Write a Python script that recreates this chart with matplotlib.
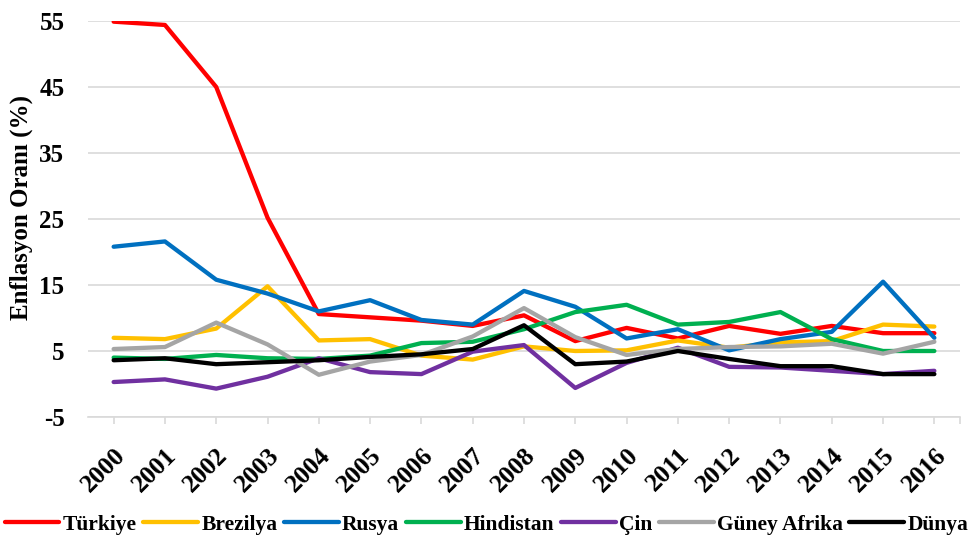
import matplotlib
matplotlib.use("Agg")
import matplotlib.pyplot as plt
import numpy as np

years = [str(y) for y in range(2000, 2017)]
turkiye = [54.9, 54.4, 45.0, 25.2, 10.6, 10.1, 9.6, 8.8, 10.4, 6.5, 8.5, 6.9, 8.8, 7.6, 8.8, 7.7, 7.7]
brezilya = [7.0, 6.8, 8.4, 14.8, 6.6, 6.8, 4.3, 3.7, 5.7, 5.0, 5.1, 6.6, 5.5, 6.3, 6.5, 9.0, 8.7]
rusya = [20.8, 21.6, 15.8, 13.7, 11.0, 12.7, 9.7, 9.0, 14.1, 11.7, 6.9, 8.3, 5.1, 6.8, 7.9, 15.5, 7.0]
hindistan = [4.0, 3.8, 4.4, 3.9, 3.8, 4.3, 6.2, 6.4, 8.3, 10.9, 12.0, 9.0, 9.4, 10.9, 6.8, 5.0, 5.0]
cin = [0.3, 0.7, -0.7, 1.1, 3.9, 1.8, 1.5, 4.9, 5.9, -0.6, 3.2, 5.5, 2.6, 2.5, 2.0, 1.5, 2.0]
guney_afrika = [5.3, 5.6, 9.3, 6.0, 1.4, 3.4, 4.4, 7.2, 11.5, 7.1, 4.4, 5.3, 5.6, 5.7, 6.1, 4.6, 6.4]
dunya = [3.6, 3.9, 3.0, 3.3, 3.6, 4.1, 4.5, 5.3, 8.9, 3.0, 3.4, 5.0, 3.8, 2.7, 2.7, 1.5, 1.5]

series = [
    ("Türkiye", turkiye, "#FF0000"),
    ("Brezilya", brezilya, "#FFC000"),
    ("Rusya", rusya, "#0070C0"),
    ("Hindistan", hindistan, "#00B050"),
    ("Çin", cin, "#7030A0"),
    ("Güney Afrika", guney_afrika, "#A5A5A5"),
    ("Dünya", dunya, "#000000"),
]
yticks = [-5, 5, 15, 25, 35, 45, 55]

plt.rcParams['font.family'] = ['Liberation Serif', 'DejaVu Serif']
plt.rcParams['font.weight'] = 'bold'

fig = plt.figure(figsize=(9.73, 5.38), dpi=100)
ax = fig.add_axes([88/973, 1-417/538, (960-88)/973, (417-21)/538])

x = np.arange(len(years))
for name, vals, col in series:
    ax.plot(x, vals, color=col, lw=3.1, label=name,
            solid_capstyle='round', solid_joinstyle='round')

ax.set_xlim(-0.5, len(years)-0.5)
ax.set_ylim(-5, 55)
ax.set_yticks(yticks)
ax.set_yticklabels([str(v) for v in yticks], fontsize=18, fontweight='bold')
ax.yaxis.grid(True, color='#D9D9D9', lw=1.2)
ax.set_axisbelow(True)
ax.tick_params(axis='y', length=0, pad=17)

ax.set_xticks(x)
ax.set_xticklabels(years, fontsize=18.5, fontweight='bold', rotation=45,
                   ha='right', va='top', rotation_mode='anchor')
ax.set_xticks([len(years)-0.5], minor=True)
ax.tick_params(axis='x', which='both', length=5, color='#D9D9D9', width=1.2, pad=14)

for s in ['top', 'right', 'left']:
    ax.spines[s].set_visible(False)
ax.spines['bottom'].set_color('#D9D9D9')
ax.spines['bottom'].set_linewidth(1.2)

ax.set_ylabel("Enflasyon Oranı (%)", fontsize=18, fontweight='bold')
ax.yaxis.set_label_coords(-0.063, 0.53)

leg = fig.legend(loc='center', bbox_to_anchor=(0.5, 0.025), ncol=7, frameon=False,
                 handlelength=2.55, handletextpad=0.15, columnspacing=0.3,
                 prop={'size': 15.5, 'weight': 'bold'}, borderaxespad=0, borderpad=0)

fig.savefig("out.png", dpi=100)
